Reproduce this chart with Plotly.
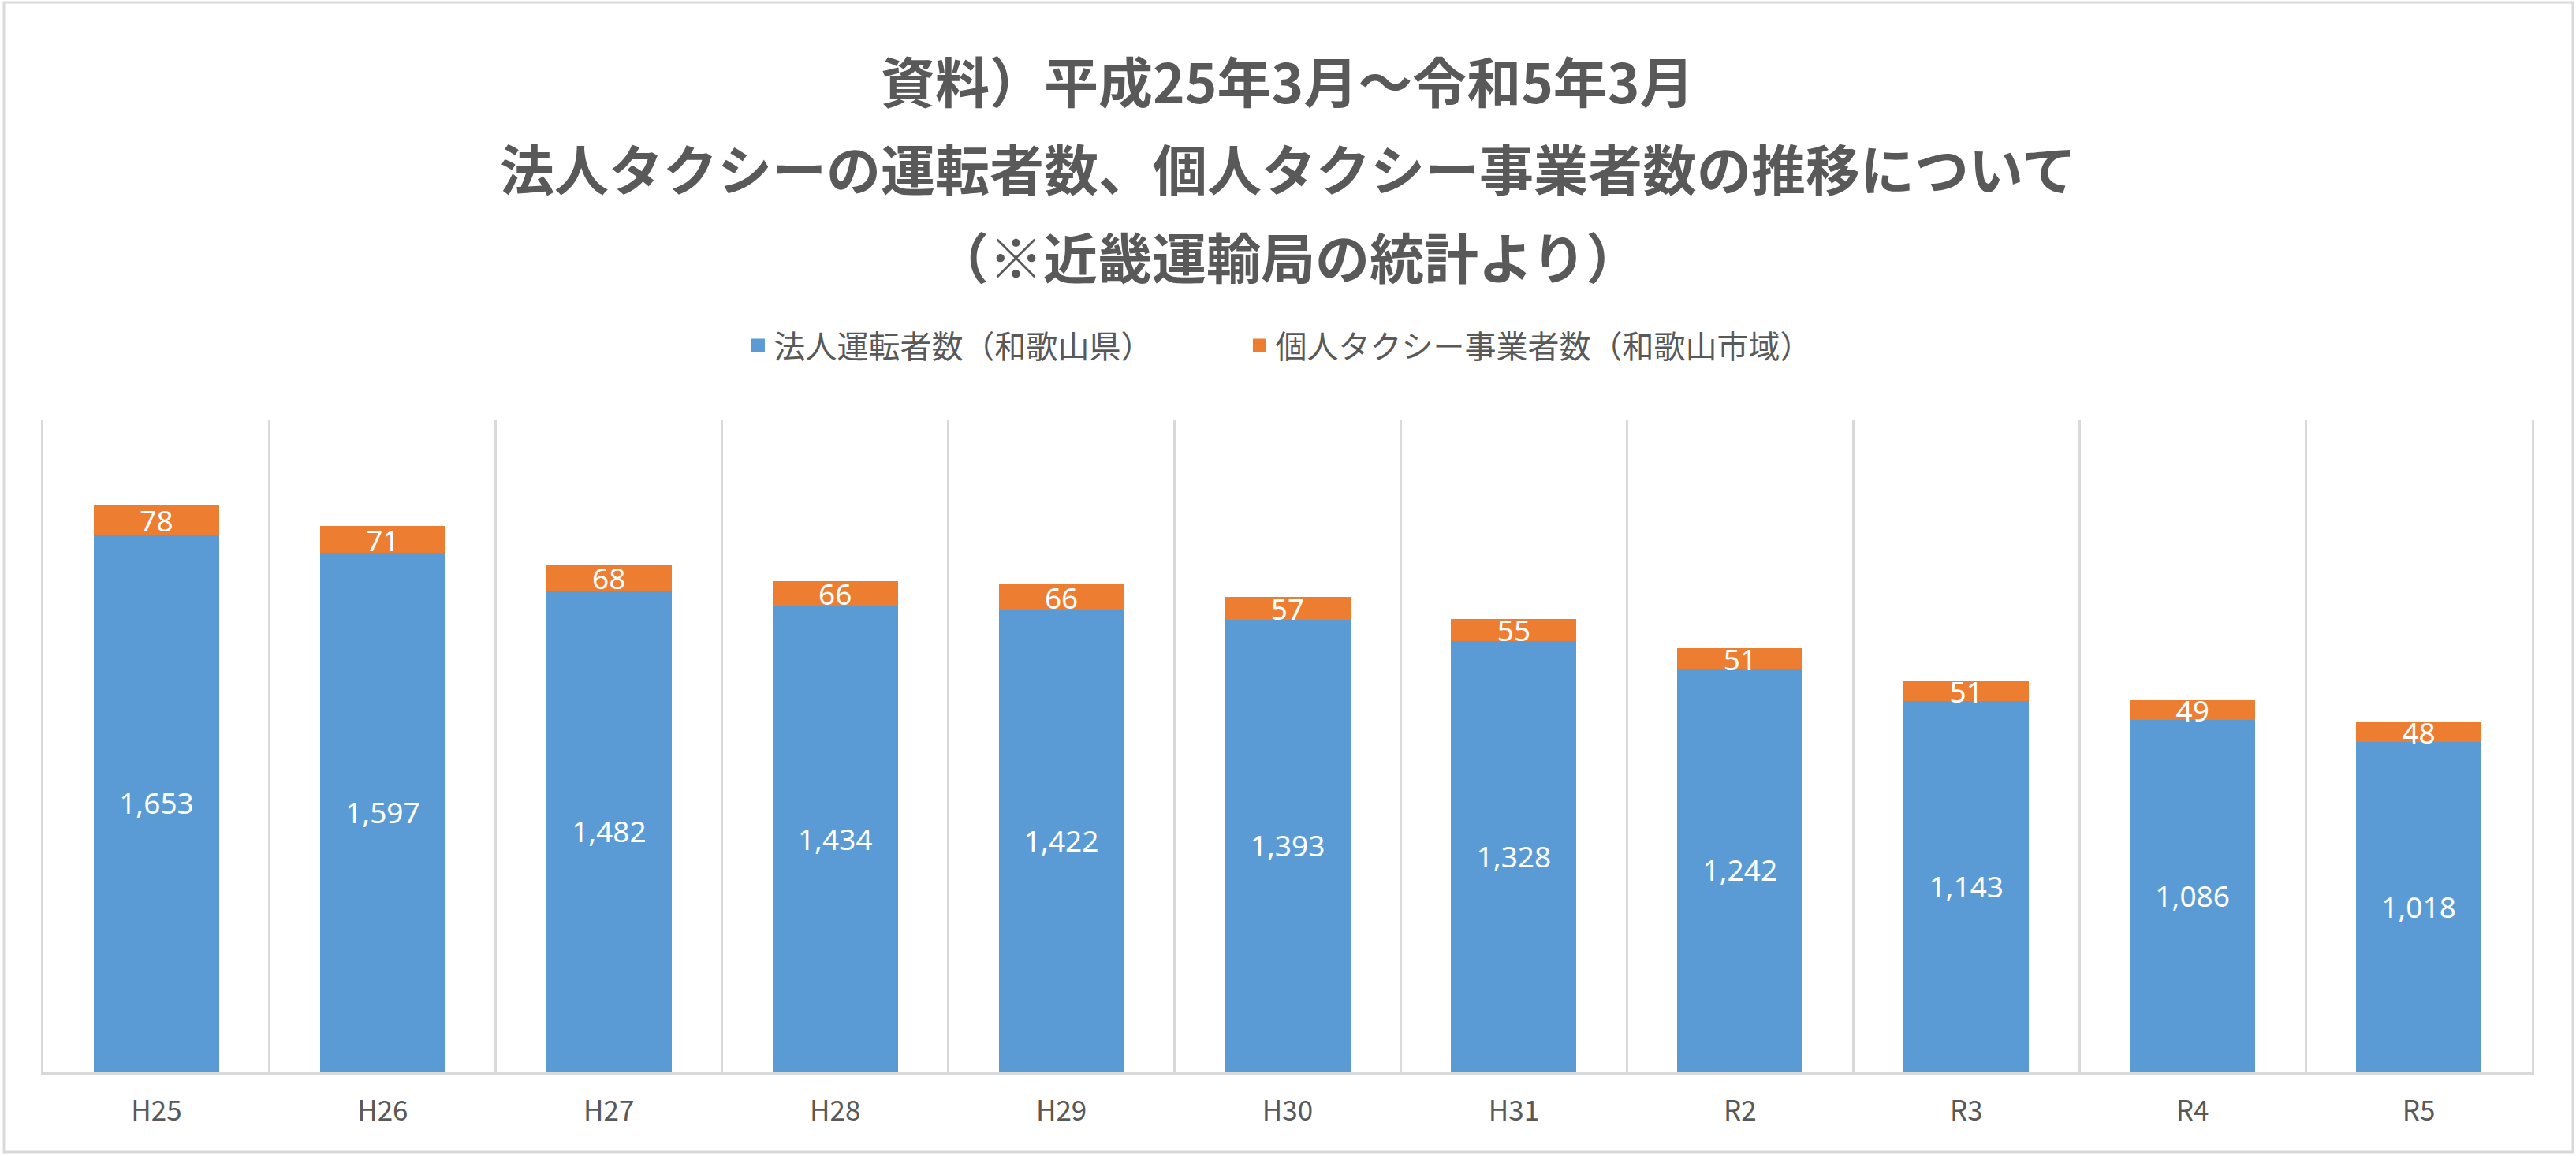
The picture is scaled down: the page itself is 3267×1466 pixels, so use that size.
import plotly.graph_objects as go

categories = ["H25", "H26", "H27", "H28", "H29", "H30", "H31", "R2", "R3", "R4", "R5"]
corporate_drivers = [1653, 1597, 1482, 1434, 1422, 1393, 1328, 1242, 1143, 1086, 1018]
individual_operators = [78, 71, 68, 66, 66, 57, 55, 51, 51, 49, 48]

series_names = ["法人運転者数（和歌山県）", "個人タクシー事業者数（和歌山市域）"]
title_lines = [
    "資料）平成25年3月～令和5年3月",
    "法人タクシーの運転者数、個人タクシー事業者数の推移について",
    "（※近畿運輸局の統計より）",
]

BLUE = "#5b9bd5"
ORANGE = "#ed7d31"
GRID = "#d9d9d9"
TEXT = "#595959"

W, H = 3267, 1466
ML, MR, MT, MB = 55, 56, 532, 106
PW = W - ML - MR
PH = H - MT - MB


def px_to_paper_y(py):
    return (H - MB - py) / PH


def px_to_paper_x(px):
    return (px - ML) / PW


fig = go.Figure()
for i, (name, vals, col) in enumerate([(series_names[0], corporate_drivers, BLUE),
                                       (series_names[1], individual_operators, ORANGE)]):
    fig.add_trace(go.Bar(
        x=categories, y=vals, name=name,
        marker=dict(color=col, line=dict(color=col, width=5)),
        texttemplate="%{y:,}",
        textposition="inside",
        insidetextanchor="middle",
        constraintext="none",
        textangle=0,
        textfont=dict(family="Noto Sans", size=37, color="white"),
        hoverinfo="skip",
        legendwidth=591 if i == 0 else None,
    ))

annotations = []
for line, py in zip(title_lines, [101, 212, 324]):
    annotations.append(dict(
        text=line, xref="paper", yref="paper", x=0.5, y=px_to_paper_y(py),
        xanchor="center", yanchor="middle", showarrow=False,
        font=dict(family="Noto Sans CJK JP", size=69, color=TEXT, weight="bold"),
    ))

fig.update_layout(
    width=W, height=H,
    margin=dict(l=ML, r=MR, t=MT, b=MB),
    paper_bgcolor="white", plot_bgcolor="white",
    barmode="stack", bargap=0.463,
    showlegend=True,
    legend=dict(
        orientation="h", x=0.4965, xanchor="center", y=px_to_paper_y(438), yanchor="middle",
        font=dict(family="Noto Sans CJK JP", size=40, color=TEXT),
        traceorder="normal", bgcolor="rgba(0,0,0,0)",
    ),
    annotations=annotations,
    shapes=[dict(
        type="rect", xref="paper", yref="paper", layer="below",
        x0=px_to_paper_x(5), x1=px_to_paper_x(3263),
        y0=px_to_paper_y(1461), y1=px_to_paper_y(3),
        line=dict(color=GRID, width=3), fillcolor="rgba(0,0,0,0)",
    )],
    xaxis=dict(
        type="category", tickson="boundaries", showgrid=True, gridcolor=GRID, gridwidth=3,
        showline=True, linecolor=GRID, linewidth=3, ticks="",
        tickfont=dict(family="Noto Sans CJK JP", size=35, color=TEXT),
        ticklabelstandoff=16, zeroline=False,
    ),
    yaxis=dict(
        range=[0, 2000], showgrid=False, showticklabels=False, ticks="",
        showline=True, mirror=True, linecolor=GRID, linewidth=3, zeroline=False,
    ),
)

fig.write_html(
    "out.html",
    config={"displayModeBar": False},
    post_script="document.body.style.margin='0';document.body.style.overflow='hidden';",
)
